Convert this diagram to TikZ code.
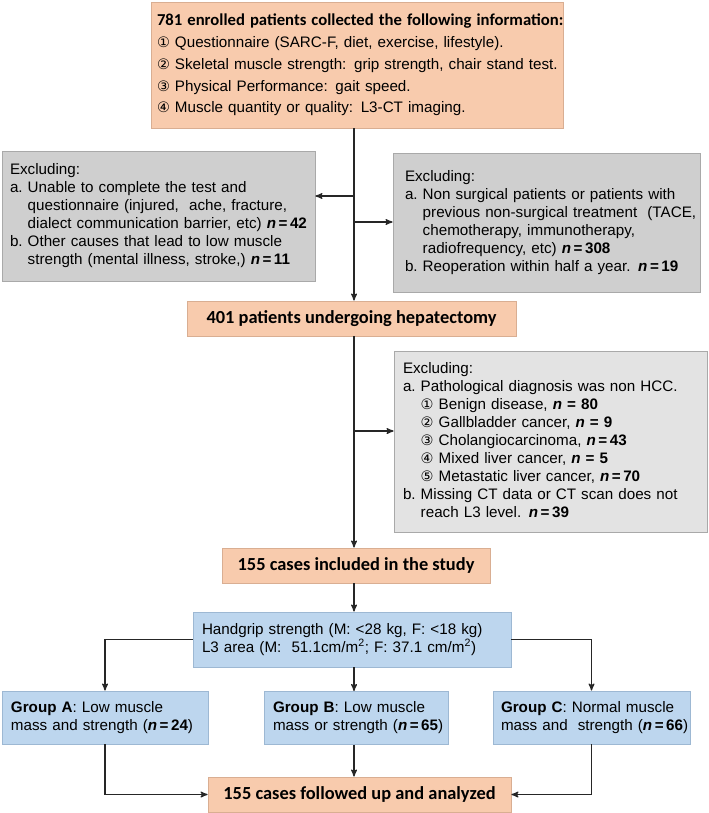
\documentclass[tikz,border=0pt]{standalone}
\usepackage{fontspec}
\setmainfont{Liberation Sans}
\newfontfamily\headfont{Carlito}
\newfontfamily\circfont{DejaVu Sans}
\usetikzlibrary{arrows}

\definecolor{boxorange}{HTML}{F8CBAD}
\definecolor{lineorange}{HTML}{D9AE92}
\definecolor{boxgray}{HTML}{CFCFCF}
\definecolor{boxlight}{HTML}{E3E3E3}
\definecolor{linegray}{HTML}{A9A9A9}
\definecolor{boxblue}{HTML}{BDD6EE}
\definecolor{lineblue}{HTML}{9DB8D3}

\newcommand{\nn}[1]{\textbf{\textit{n}\,=\,#1}}
\newcommand{\ns}[1]{\textbf{\textit{n} = #1}}
\newcommand{\cn}[1]{{\circfont\fontsize{10.8}{13.5}\selectfont #1}}

\tikzset{
  box/.style={rectangle, draw, line width=0.6pt, inner sep=0pt, align=left,
    font=\fontsize{11.4}{13.5}\selectfont},
  pbox/.style={box, fill=boxorange, draw=lineorange},
  gbox/.style={box, fill=boxgray, draw=linegray},
  lbox/.style={box, fill=boxlight, draw=linegray},
  bbox/.style={box, fill=boxblue, draw=lineblue},
  boxdim/.style 2 args={minimum width=#1*0.75pt, minimum height=#2*0.75pt},
  title/.style={font=\headfont\bfseries\fontsize{13.8}{16}\selectfont, align=center},
  link/.style={draw=black!85, line width=0.9pt}
}

\begin{document}
\begin{tikzpicture}[x=0.75pt,y=-0.75pt,>=stealth']
  \useasboundingbox (0,0) rectangle (709,813);

  % boxes
  \node[pbox, boxdim={412}{126}, text width=300pt,
        font=\fontsize{11.4}{16.3}\selectfont] (top) at (357,65)
    {\begin{tabular}{@{}l@{}}
     {\headfont\bfseries\fontsize{12.5}{16.3}\selectfont 781 enrolled patients collected the following information:}\\
     \cn{①} Questionnaire (SARC-F, diet, exercise, lifestyle).\\
     \cn{②} Skeletal muscle strength:\enspace grip strength, chair stand test.\\
     \cn{③} Physical Performance:\enspace gait speed.\\
     \cn{④} Muscle quantity or quality: L3-CT imaging.
     \end{tabular}};

  \node[gbox, boxdim={313}{130}, text width=222.75pt] (exA) at (158.5,216)
    {\begin{tabular}{@{}l@{\ }l@{}}
     \multicolumn{2}{@{}l@{}}{Excluding:}\\
     a. & Unable to complete the test and\\
        & questionnaire (injured,\ \ ache, fracture,\\
        & dialect communication barrier, etc) \nn{42}\\
     b. & Other causes that lead to low muscle\\
        & strength (mental illness, stroke,) \nn{11}
     \end{tabular}};

  \node[gbox, boxdim={307}{139}, text width=212.25pt] (exB) at (546.5,222.5)
    {\begin{tabular}{@{}l@{\ }l@{}}
     \multicolumn{2}{@{}l@{}}{Excluding:}\\
     a. & Non surgical patients or patients with\\
        & previous non-surgical treatment\ \ (TACE,\\
        & chemotherapy, immunotherapy,\\
        & radiofrequency, etc) \nn{308}\\
     b. & Reoperation within half a year. \nn{19}
     \end{tabular}};

  \node[pbox, boxdim={329}{35}, title] (hep) at (351.5,318.5)
    {401 patients undergoing hepatectomy};

  \node[lbox, boxdim={313}{181}, text width=221.25pt] (exC) at (550.5,441.5)
    {\begin{tabular}{@{}l@{\ }l@{}}
     \multicolumn{2}{@{}l@{}}{Excluding:}\\
     a. & Pathological diagnosis was non HCC.\\
        & \cn{①} Benign disease, \ns{80}\\
        & \cn{②} Gallbladder cancer, \ns{9}\\
        & \cn{③} Cholangiocarcinoma, \nn{43}\\
        & \cn{④} Mixed liver cancer, \ns{5}\\
        & \cn{⑤} Metastatic liver cancer, \nn{70}\\
     b. & Missing CT data or CT scan does not\\
        & reach L3 level. \nn{39}
     \end{tabular}};

  \node[pbox, boxdim={268}{35}, title] (incl) at (356,565.5)
    {155 cases included in the study};

  \node[bbox, boxdim={318}{55}, text width=225pt] (crit) at (352,639.5)
    {\begin{tabular}{@{}l@{}}
     Handgrip strength (M: <28 kg, F: <18 kg)\\
     L3 area (M:\ \ 51.1cm/m\textsuperscript{2}; F: 37.1 cm/m\textsuperscript{2})
     \end{tabular}};

  \node[bbox, boxdim={206}{53}, text width=141pt] (grpA) at (105,717.5)
    {\begin{tabular}{@{}l@{}}
     \textbf{Group A}: Low muscle\\
     mass and strength (\nn{24})
     \end{tabular}};

  \node[bbox, boxdim={184}{53}, text width=124.5pt] (grpB) at (356,718)
    {\begin{tabular}{@{}l@{}}
     \textbf{Group B}: Low muscle\\
     mass or strength (\nn{65})
     \end{tabular}};

  \node[bbox, boxdim={197}{53}, text width=135.75pt] (grpC) at (591.5,717.5)
    {\begin{tabular}{@{}l@{}}
     \textbf{Group C}: Normal muscle\\
     mass and\ \ strength (\nn{66})
     \end{tabular}};

  \node[pbox, boxdim={303}{35}, title] (final) at (359.5,794.5)
    {155 cases followed up and analyzed};

  % connectors
  \coordinate (spine) at (354,0);
  \coordinate (brA) at (354,196);
  \coordinate (brB) at (354,222);
  \coordinate (brC) at (354,431);

  \draw[link,->] (top.south -| spine) -- (hep.north -| spine);
  \draw[link,->] (brA) -- (brA -| exA.east);
  \draw[link,->] (brB) -- (brB -| exB.west);
  \draw[link,->] (hep.south -| spine) -- (incl.north -| spine);
  \draw[link,->] (brC) -- (brC -| exC.west);
  \draw[link,->] (incl.south -| spine) -- (crit.north -| spine);
  \draw[link,->] (crit.west) -| (grpA.north);
  \draw[link,->] (crit.south -| spine) -- (grpB.north -| spine);
  \draw[link,->] (crit.east) -| (grpC.north);
  \draw[link,->] (grpA.south) |- (final.west);
  \draw[link,->] (grpB.south -| spine) -- (final.north -| spine);
  \draw[link,->] (grpC.south) |- (final.east);
\end{tikzpicture}
\end{document}
